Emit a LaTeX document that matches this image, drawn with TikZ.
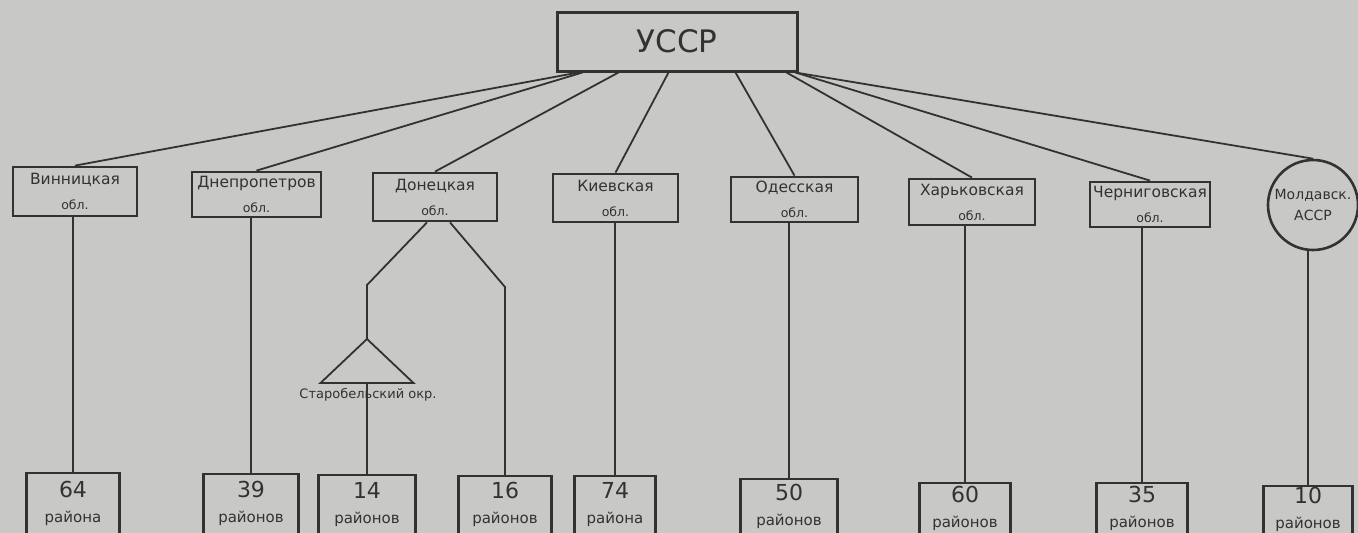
\documentclass[tikz,border=0pt]{standalone}
\usepackage{fontspec}
\setmainfont{DejaVu Sans}
\usetikzlibrary{shapes.geometric,calc}
\definecolor{paper}{RGB}{200,200,198}
\definecolor{ink}{RGB}{50,50,50}
\begin{document}
\begin{tikzpicture}[x=1pt,y=-1pt,
        topsty/.style={rectangle,draw=ink,text=ink,line width=3pt,
            minimum width=240pt,minimum height=59pt,font=\fontsize{31}{31}\selectfont},
        osty/.style={rectangle,draw=ink,text=ink,line width=2.8pt,inner sep=0pt,
            align=center,font=\fontsize{15.5}{25}\selectfont},
        csty/.style={circle,draw=ink,text=ink,line width=2.6pt,minimum size=90pt,
            inner sep=0pt,align=center,font=\fontsize{14}{21}\selectfont},
        rsty/.style={rectangle,text=ink,inner sep=0pt,align=center,
            font=\fontsize{15}{25}\selectfont},
        tsty/.style={isosceles triangle,draw=ink,line width=1.8pt,
            shape border rotate=90,isosceles triangle stretches,
            minimum width=93pt,minimum height=44pt,inner sep=0pt,outer sep=0pt},
        ssty/.style={text=ink,inner sep=0pt,font=\fontsize{13}{13}\selectfont},
        lsty/.style={draw=ink,line width=1.8pt},
        bsty/.style={draw=ink,line width=2.8pt},
    ]
    \fill[paper] (0,0) rectangle (1358,533);
    \useasboundingbox (0,0) rectangle (1358,533);
    \node (u) at (677,41.5) [topsty] {УССР};
    \foreach \n/\x/\y/\w/\h/\name in {1/75/191.5/124/49/Винницкая,
        2/256.5/194.5/129/45/Днепропетров, 3/435/197/124/48/Донецкая,
        4/615.5/198/125/48/Киевская, 5/794.5/199.5/127/45/Одесская,
        6/972/202/126/46/Харьковская, 7/1150/204.5/120/45/Черниговская}{
        \node (o\n) at (\x,\y) [osty,minimum width=\w,minimum height=\h]
            {\name\\{\fontsize{12.5}{12.5}\selectfont обл.}};
    }
    \node (o8) at (1313,205) [csty] {Молдавск.\\АССР};
    \foreach \n/\dx in {1/23,2/27,3/63,4/113,5/180,6/231,7/240,8/240}{
        \draw[lsty] ($(u.south west)+(\dx,0)$) -- (o\n.north);
    }
    \foreach \n/\x/\t/\w/\num/\word in {1/73/473/93/64/района,
        2/251/474/94/39/районов, 3/367/475/96/14/районов,
        4/505/476/92/16/районов, 5/615/476/80/74/района,
        6/789/479/96/50/районов, 7/965/483/90/60/районов,
        8/1142/483/91/35/районов, 9/1308/486/89/10/районов}{
        \node (r\n) at (\x,\t) [rsty,anchor=north,minimum width=\w,
            minimum height={533-\t}] {{\fontsize{22}{22}\selectfont\num}\\\word};
        \draw[bsty] (r\n.south west) -- (r\n.north west) -- (r\n.north east)
            -- (r\n.south east);
    }
    \foreach \r/\o in {1/1,2/2,5/4,6/5,7/6,8/7,9/8}{
        \draw[lsty] (r\r.north) -- (r\r.north |- o\o.south);
    }
    % Donetsk branches
    \coordinate (kl) at (367,285);
    \coordinate (kr) at (505,287);
    \node (tri) at (367,339) [tsty,anchor=apex] {};
    \node (lab) at (368,395) [ssty] {Старобельский окр.};
    \draw[lsty] ($(o3.south)+(-8,0)$) -- (kl) -- (tri.apex);
    \draw[lsty] ($(o3.south)+(15,0)$) -- (kr) -- (r4.north);
    \draw[lsty] (tri.lower side) -- (r3.north);
\end{tikzpicture}
\end{document}
